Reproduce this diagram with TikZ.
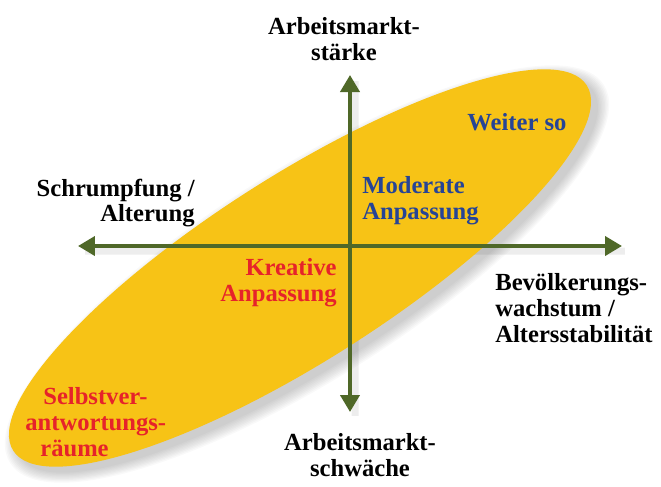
\documentclass[tikz,border=0pt]{standalone}
\usepackage{fontspec}
\setmainfont{Liberation Serif}
\usepackage{tikz}
\usetikzlibrary{arrows.meta}
\usetikzlibrary{positioning}
\definecolor{axisgreen}{RGB}{79,104,40}
\definecolor{ovalyellow}{RGB}{247,195,22}
\definecolor{labelblue}{RGB}{38,68,150}
\definecolor{labelred}{RGB}{230,35,42}
\pgfdeclarelayer{nodelayer}
\pgfdeclarelayer{edgelayer}
\pgfdeclarelayer{shadowlayer}
\pgfsetlayers{shadowlayer,edgelayer,nodelayer,main}
\tikzstyle{none}=[inner sep=0pt]
\tikzset{lbl/.style={inner sep=0pt, font=\fontsize{14}{14.6}\selectfont\bfseries}}
\tikzset{axis/.style={line width=0.08cm, draw=axisgreen,
{Triangle[length=0.34cm,width=0.38cm]}-{Triangle[length=0.34cm,width=0.38cm]}}}
\tikzset{oval/.style={fill=ovalyellow}}

\begin{document}
\begin{tikzpicture}
        \useasboundingbox (-7,-4.8) rectangle (6.22,4.92);
        \begin{pgfonlayer}{shadowlayer}
            % soft shadow under the oval
            \begin{scope}[shift={(-0.86,-0.56)}, rotate=32.5]
                \foreach \s in {0.00,0.03,...,0.24}
                    \fill [black, opacity=0.022] (0,0) ellipse ({6.8+\s} and {1.85+\s});
            \end{scope}
            \foreach \s in {0.03,0.06,0.09}
                \draw [line width={0.08cm+\s cm}, black, opacity=0.025] (-5.3,-0.1) to (5.5,-0.1);
            \foreach \s in {0.03,0.06,0.09}
                \draw [line width={0.08cm+\s cm}, black, opacity=0.025] (0.1,3.3) to (0.1,-3.4);
            \begin{scope}[shift={(-1,-0.44)}, rotate=32.5]
                \fill [oval] (0,0) ellipse (6.8 and 1.85);
            \end{scope}
        \end{pgfonlayer}
        \begin{pgfonlayer}{nodelayer}
            \node [style=none] (0) at (-5.44, 0) {};
            \node [style=none] (1) at (5.44, 0) {};
            \node [style=none] (2) at (0, 3.42) {};
            \node [style=none] (3) at (0, -3.32) {};
            \node [lbl, align=center] (4) at (-0.12, 4.14) {Arbeitsmarkt-\\stärke};
            \node [lbl, align=center] (5) at (0.2, -4.18) {Arbeitsmarkt-\\schwäche};
            \node [lbl, align=right, anchor=east] (6) at (-3.1, 0.86) {Schrumpfung /\\Alterung};
            \node [lbl, align=left, anchor=west] (7) at (2.9, -1.24) {Bevölkerungs-\\wachstum /\\Altersstabilität};
            \node [lbl, color=labelblue] (8) at (3.34, 2.48) {Weiter so};
            \node [lbl, color=labelblue, align=left, anchor=west] (9) at (0.24, 0.9) {Moderate\\Anpassung};
            \node [lbl, color=labelred, align=right, anchor=east] (10) at (-0.26, -0.74) {Kreative\\Anpassung};
            \node [lbl, color=labelred, align=left, anchor=west] (11) at (-6.5, -3.52) {\hspace*{0.36cm}Selbstver-\\antwortungs-\\\hspace*{0.3cm}räume};
        \end{pgfonlayer}
        \begin{pgfonlayer}{edgelayer}
            \draw [axis] (0.center) to (1.center);
            \draw [axis] (3.center) to (2.center);
        \end{pgfonlayer}
    \end{tikzpicture}
\end{document}
